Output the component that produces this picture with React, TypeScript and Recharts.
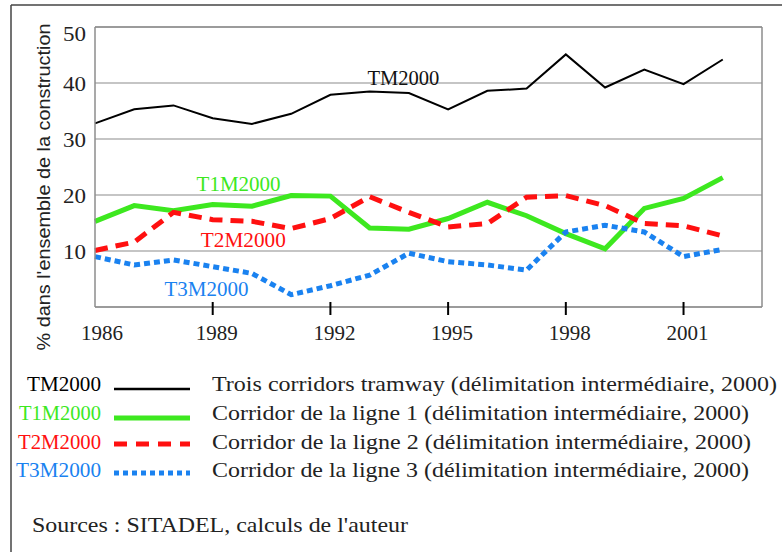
import React from 'react';
import { LineChart, Line, XAxis, YAxis, CartesianGrid, ReferenceLine, ReferenceDot } from 'recharts';

// values (% of all construction)
const years = [1986, 1987, 1988, 1989, 1990, 1991, 1992, 1993, 1994, 1995, 1996, 1997, 1998, 1999, 2000, 2001, 2002];
const tm2000 = [32.8, 35.3, 36.0, 33.7, 32.7, 34.5, 37.9, 38.5, 38.2, 35.3, 38.6, 39.0, 45.1, 39.2, 42.4, 39.8, 44.2];
const t1m2000 = [15.3, 18.1, 17.2, 18.3, 18.0, 19.9, 19.8, 14.1, 13.9, 15.8, 18.7, 16.3, 13.1, 10.4, 17.6, 19.4, 23.1];
const t2m2000 = [10.1, 11.6, 16.9, 15.6, 15.3, 14.0, 15.8, 19.7, 16.9, 14.3, 14.9, 19.6, 19.9, 18.1, 14.9, 14.5, 12.7];
const t3m2000 = [9.0, 7.5, 8.4, 7.2, 6.0, 2.2, 3.8, 5.7, 9.6, 8.1, 7.5, 6.6, 13.4, 14.6, 13.4, 9.0, 10.3];

const xTicks = [1986, 1989, 1992, 1995, 1998, 2001];
const yTicks = [10, 20, 30, 40, 50];

const legendRows = [
  { code: 'TM2000', text: 'Trois corridors tramway (délimitation intermédiaire, 2000)', color: '#000000', codeLen: 74, len: 565 },
  { code: 'T1M2000', text: 'Corridor de la ligne 1 (délimitation intermédiaire, 2000)', color: '#3de81f', codeLen: 82, len: 537 },
  { code: 'T2M2000', text: 'Corridor de la ligne 2 (délimitation intermédiaire, 2000)', color: '#ff1010', codeLen: 83, len: 539 },
  { code: 'T3M2000', text: 'Corridor de la ligne 3 (délimitation intermédiaire, 2000)', color: '#1a82f0', codeLen: 85, len: 537 },
];

const data = years.map((year, i) => ({
  year,
  tm: tm2000[i],
  t1: t1m2000[i],
  t2: t2m2000[i],
  t3: t3m2000[i],
}));

const serif = 'Liberation Serif, Tinos, DejaVu Serif, serif';
const serifStyle = { fontFamily: serif };
const gridColor = '#8c8c8c';

const XTick = (props: any) => {
  const { x, y, payload } = props;
  const v = payload.value;
  return (
    <g>
      {v !== 1986 && <line x1={x} x2={x} y1={y - 5} y2={y + 8} stroke="#000" strokeWidth={2} />}
      <text
        x={x + (v === 1986 ? 7 : 4)}
        y={y + 33}
        textAnchor="middle"
        style={serifStyle}
        fontSize={21}
        fill="#222"
        textLength={42}
        lengthAdjust="spacingAndGlyphs"
      >
        {v}
      </text>
    </g>
  );
};

const YTick = (props: any) => {
  const { x, y, payload } = props;
  return (
    <text
      x={x - 9}
      y={y + 7.5 + (payload.value === 50 ? 6 : 0)}
      textAnchor="end"
      style={serifStyle}
      fontSize={22}
      fill="#222"
      textLength={23}
      lengthAdjust="spacingAndGlyphs"
    >
      {payload.value}
    </text>
  );
};

const SeriesLabel = (props: any) => {
  const { viewBox, text, color, len } = props;
  const cx = (viewBox?.x ?? 0) + (viewBox?.width ?? 0) / 2;
  const cy = (viewBox?.y ?? 0) + (viewBox?.height ?? 0) / 2;
  return (
    <text
      x={cx}
      y={cy + 7}
      textAnchor="middle"
      style={serifStyle}
      fontSize={21}
      fill={color}
      textLength={len}
      lengthAdjust="spacingAndGlyphs"
    >
      {text}
    </text>
  );
};

export default function App() {
  return (
    <div style={{ position: 'absolute', left: 0, top: 0, width: 782, height: 552, background: '#fff', fontFamily: serif }}>
      <LineChart width={782} height={552} data={data} margin={{ top: 27, right: 20, bottom: 215, left: 0 }}>
        <CartesianGrid vertical={false} stroke={gridColor} strokeWidth={1.2} />
        <XAxis
          dataKey="year"
          type="number"
          domain={[1986, 2003]}
          ticks={xTicks}
          interval={0}
          height={30}
          tickSize={0}
          tickMargin={0}
          axisLine={{ stroke: gridColor, strokeWidth: 1.5 }}
          tick={<XTick />}
        />
        <YAxis
          type="number"
          domain={[0, 50]}
          ticks={yTicks}
          width={95}
          tickSize={0}
          tickMargin={0}
          tickLine={false}
          axisLine={{ stroke: gridColor, strokeWidth: 1.5 }}
          tick={<YTick />}
        />
        <ReferenceLine y={50} stroke={gridColor} strokeWidth={1.5} />
        <ReferenceLine x={2003} stroke={gridColor} strokeWidth={1.5} />
        <Line dataKey="tm" stroke="#000" strokeWidth={2} dot={false} isAnimationActive={false} />
        <Line dataKey="t1" stroke="#3de81f" strokeWidth={5} dot={false} isAnimationActive={false} />
        <Line dataKey="t2" stroke="#ff1010" strokeWidth={5} strokeDasharray="13 8" dot={false} isAnimationActive={false} />
        <Line dataKey="t3" stroke="#1a82f0" strokeWidth={5} strokeDasharray="6 4" dot={false} isAnimationActive={false} />
        <ReferenceDot x={1993.86} y={40.9} r={0} stroke="none" fill="none" label={<SeriesLabel text="TM2000" color="#111" len={72} />} />
        <ReferenceDot x={1989.66} y={21.9} r={0} stroke="none" fill="none" label={<SeriesLabel text="T1M2000" color="#3de81f" len={84} />} />
        <ReferenceDot x={1989.78} y={12.0} r={0} stroke="none" fill="none" label={<SeriesLabel text="T2M2000" color="#ff1010" len={85} />} />
        <ReferenceDot x={1988.84} y={3.3} r={0} stroke="none" fill="none" label={<SeriesLabel text="T3M2000" color="#1a82f0" len={84} />} />
      </LineChart>

      <svg width={782} height={552} style={{ position: 'absolute', left: 0, top: 0, pointerEvents: 'none' }}>
        <line x1={11} x2={11} y1={5} y2={552} stroke="#444" strokeWidth={1.5} />
        <line x1={11} x2={782} y1={5} y2={5} stroke="#444" strokeWidth={1.5} />
        <text
          transform="translate(43,187) rotate(-90)"
          textAnchor="middle"
          dominantBaseline="central"
          style={{ fontFamily: 'Liberation Sans, Arimo, Arial, sans-serif' }}
          fontSize={19}
          fill="#222"
          textLength={327}
          lengthAdjust="spacingAndGlyphs"
        >
          % dans l'ensemble de la construction
        </text>
        {legendRows.map((r, i) => {
          const cy = [384, 413, 442, 470][i];
          const ly = [389, 418, 444, 473][i];
          return (
            <g key={r.code}>
              <text
                x={101}
                y={cy + 7}
                textAnchor="end"
                style={serifStyle}
                fontSize={22}
                fill={r.color}
                textLength={r.codeLen}
                lengthAdjust="spacingAndGlyphs"
              >
                {r.code}
              </text>
              <line
                x1={114}
                x2={190}
                y1={ly}
                y2={ly}
                stroke={r.color}
                strokeWidth={i === 0 ? 2.5 : 5}
                strokeDasharray={i === 2 ? '13 9' : i === 3 ? '5 4' : undefined}
              />
              <text x={212} y={cy + 7} style={serifStyle} fontSize={22} fill="#222" textLength={r.len} lengthAdjust="spacingAndGlyphs">
                {r.text}
              </text>
            </g>
          );
        })}
        <text x={32} y={532} style={serifStyle} fontSize={22} fill="#222" textLength={376} lengthAdjust="spacingAndGlyphs">
          Sources : SITADEL, calculs de l'auteur
        </text>
      </svg>
    </div>
  );
}
